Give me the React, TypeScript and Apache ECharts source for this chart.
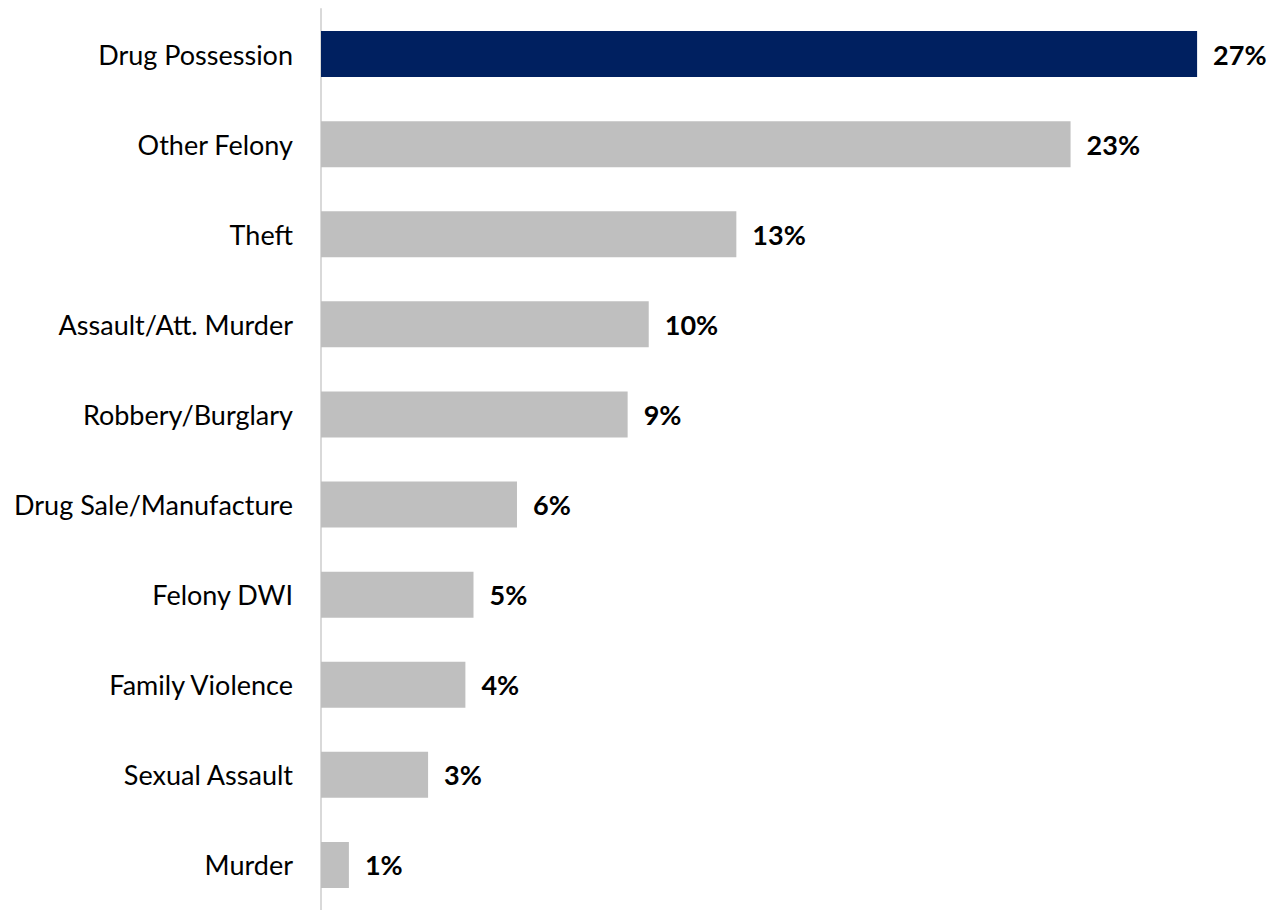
import React, { useEffect, useRef } from "react";
import * as echarts from "echarts";

const categories = [
  "Drug Possession",
  "Other Felony",
  "Theft",
  "Assault/Att. Murder",
  "Robbery/Burglary",
  "Drug Sale/Manufacture",
  "Felony DWI",
  "Family Violence",
  "Sexual Assault",
  "Murder",
];
const values = [27.0, 23.1, 12.8, 10.1, 9.45, 6.04, 4.7, 4.45, 3.3, 0.86];
const highlightIndex = 0;

export default function App() {
  const ref = useRef<HTMLDivElement>(null);
  useEffect(() => {
    if (!ref.current) return;
    const chart = echarts.init(ref.current, undefined, { renderer: "svg" });
    chart.setOption({
      animation: false,
      grid: { left: 321, right: 16, top: 9, bottom: -2, containLabel: false },
      xAxis: {
        type: "value",
        min: 0,
        max: 29,
        show: false,
      },
      yAxis: {
        type: "category",
        inverse: true,
        data: categories,
        axisLine: { show: true, lineStyle: { color: "#d9d9d9", width: 2 } },
        axisTick: { show: false },
        splitLine: { show: false },
        axisLabel: {
          margin: 28,
          fontSize: 27,
          fontFamily: "Lato",
          color: "#000",
        },
      },
      series: [
        {
          type: "bar",
          barWidth: 46,
          data: values.map((v, i) => ({
            value: v,
            itemStyle: { color: i === highlightIndex ? "#002060" : "#bfbfbf" },
          })),
          label: {
            show: true,
            position: "right",
            distance: 16,
            fontSize: 27,
            fontWeight: "bold",
            fontFamily: "Lato",
            color: "#000",
            formatter: (p: any) => Math.round(p.value) + "%",
          },
        },
      ],
    });
    return () => chart.dispose();
  }, []);
  return (
    <div
      ref={ref}
      style={{ position: "absolute", left: 0, top: 0, width: 1278, height: 910 }}
    />
  );
}
